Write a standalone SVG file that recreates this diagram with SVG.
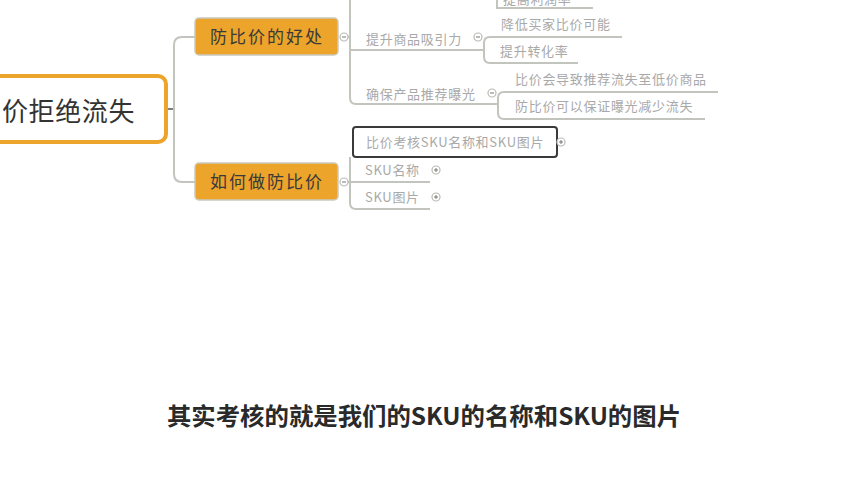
<svg xmlns="http://www.w3.org/2000/svg" width="852" height="480" viewBox="0 0 852 480">
<style>
.line{fill:none;stroke:#c2c5be;stroke-width:2}
.sub{font-family:"Noto Sans CJK SC","Noto Sans",sans-serif;font-size:13px;fill:#a9a9a9;letter-spacing:0.7px}
.main{font-family:"Noto Sans CJK SC","Noto Sans",sans-serif;font-size:17px;fill:#3a3a3a;letter-spacing:2px}
.onode{fill:#eda42b;stroke:#c9c9c0;stroke-width:1.5}
.tog{fill:#fff;stroke:#b8bbb4;stroke-width:1.2}
.tmark{stroke:#777;stroke-width:1}
</style>
<rect width="852" height="480" fill="#fff"/>
<g id="connectors">
  <line x1="167" y1="109" x2="175" y2="109" stroke="#555" stroke-width="1.5"/>
  <path class="line" d="M195 37 H182 Q174 37 174 45 V174 Q174 182 182 182 H195"/>
  <path class="line" d="M340 37 H350 M350 0 V98 Q350 104 356 104 H497"/>
  <path class="line" d="M350 50 H484"/>
  <path class="line" d="M622 37 H490 Q484 37 484 43 V57 Q484 63 490 63 H578"/>
  <path class="line" d="M718 92 H504 Q498 92 498 98 V113 Q498 119 504 119 H705"/>
  <path class="line" d="M497 0 V8 H593"/>
  <path class="line" d="M340 182 H350 M350 157 V203 Q350 209 356 209 H430 M350 182 H430"/>
</g>
<g id="root">
  <rect x="-20" y="76" width="186" height="66" rx="8" fill="#fff" stroke="#eda42b" stroke-width="4"/>
  <text x="2" y="121" font-family="'Noto Sans CJK SC','Noto Sans',sans-serif" font-size="26" fill="#333" letter-spacing="0.6">价拒绝流失</text>
</g>
<g id="node-benefit">
  <rect class="onode" x="195" y="18" width="143" height="37" rx="4"/>
  <text class="main" x="210" y="43">防比价的好处</text>
  <circle class="tog" cx="344" cy="37" r="4"/><line class="tmark" x1="342" y1="37" x2="346" y2="37"/>
</g>
<g id="node-how">
  <rect class="onode" x="195" y="163" width="143" height="37" rx="4"/>
  <text class="main" x="210" y="188">如何做防比价</text>
  <circle class="tog" cx="344" cy="182" r="4"/><line class="tmark" x1="342" y1="182" x2="346" y2="182"/>
</g>
<g id="node-top-cut">
  <text class="sub" x="503" y="4">提高利润率</text>
</g>
<g id="node-attract">
  <text class="sub" x="366" y="44">提升商品吸引力</text>
  <circle class="tog" cx="478" cy="37" r="4"/><line class="tmark" x1="476" y1="37" x2="480" y2="37"/>
</g>
<g id="node-reduce">
  <text class="sub" x="501" y="29">降低买家比价可能</text>
</g>
<g id="node-convert">
  <text class="sub" x="500" y="56">提升转化率</text>
</g>
<g id="node-exposure">
  <text class="sub" x="366" y="99">确保产品推荐曝光</text>
  <circle class="tog" cx="492" cy="93" r="4"/><line class="tmark" x1="490" y1="93" x2="494" y2="93"/>
</g>
<g id="node-lose">
  <text class="sub" x="515" y="84">比价会导致推荐流失至低价商品</text>
</g>
<g id="node-keep">
  <text class="sub" x="515" y="111">防比价可以保证曝光减少流失</text>
</g>
<g id="node-check">
  <rect x="353" y="127" width="204" height="30" rx="3" fill="#fff" stroke="#3a3a3a" stroke-width="2"/>
  <text class="sub" x="366" y="147">比价考核SKU名称和SKU图片</text>
  <circle class="tog" cx="561" cy="142" r="4"/><line class="tmark" x1="559" y1="142" x2="563" y2="142"/><line class="tmark" x1="561" y1="140" x2="561" y2="144"/>
</g>
<g id="node-skuname">
  <text class="sub" x="365" y="175">SKU名称</text>
  <circle class="tog" cx="436" cy="170" r="4"/><line class="tmark" x1="434" y1="170" x2="438" y2="170"/><line class="tmark" x1="436" y1="168" x2="436" y2="172"/>
</g>
<g id="node-skuimg">
  <text class="sub" x="365" y="202">SKU图片</text>
  <circle class="tog" cx="436" cy="197" r="4"/><line class="tmark" x1="434" y1="197" x2="438" y2="197"/><line class="tmark" x1="436" y1="195" x2="436" y2="199"/>
</g>
<text x="424" y="425" text-anchor="middle" font-family="'Noto Sans CJK SC','Noto Sans',sans-serif" font-size="24.4" font-weight="700" fill="#2a2a2a">其实考核的就是我们的SKU的名称和SKU的图片</text>
</svg>
